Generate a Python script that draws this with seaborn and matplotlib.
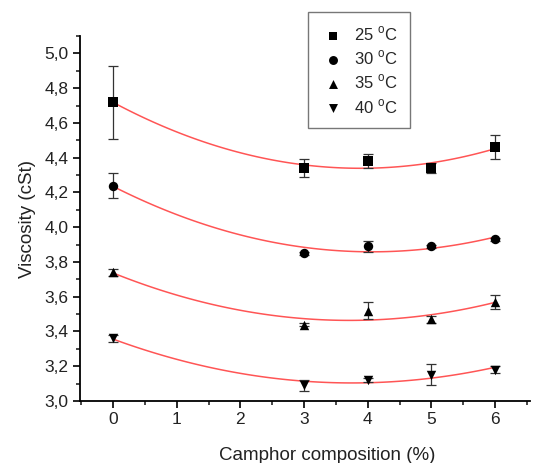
import matplotlib
matplotlib.use("Agg")
import matplotlib.pyplot as plt
import matplotlib.ticker as ticker
import pandas as pd
import seaborn as sns
import numpy as np

camphor = [0, 3, 4, 5, 6]
temps = ["25", "30", "35", "40"]
markers = ["s", "o", "^", "v"]

visc_25 = [4.72, 4.34, 4.38, 4.34, 4.46]
visc_30 = [4.24, 3.85, 3.89, 3.89, 3.93]
visc_35 = [3.74, 3.44, 3.52, 3.47, 3.57]
visc_40 = [3.36, 3.09, 3.12, 3.15, 3.18]

err_25 = [0.21, 0.05, 0.04, 0.03, 0.07]
err_30 = [0.07, 0.01, 0.03, 0.01, 0.01]
err_35 = [0.02, 0.01, 0.05, 0.02, 0.04]
err_40 = [0.02, 0.03, 0.01, 0.06, 0.02]


def make_frame():
    rows = []
    for t, v, e in zip(temps, [visc_25, visc_30, visc_35, visc_40],
                       [err_25, err_30, err_35, err_40]):
        for x, y, s in zip(camphor, v, e):
            rows.append({"camphor": x, "visc": y, "err": s, "temp": t})
    return pd.DataFrame(rows)


def plot(df):
    sns.set_style("ticks")
    plt.rcParams["font.family"] = ["Liberation Sans", "DejaVu Sans"]
    plt.rcParams["mathtext.fontset"] = "custom"
    plt.rcParams["mathtext.rm"] = "Liberation Sans"

    fig = plt.figure(figsize=(5.55, 4.63), dpi=100)
    ax = fig.add_axes([0.144, 0.134, 0.811, 0.788])

    for t, m in zip(temps, markers):
        d = df[df["temp"] == t]
        # quadratic fit in red
        sns.regplot(data=d, x="camphor", y="visc", order=2, ci=None,
                    scatter=False, truncate=True, ax=ax,
                    line_kws={"color": "#ff5555", "lw": 1.1, "zorder": 2})
        ax.errorbar(d["camphor"], d["visc"], yerr=d["err"], fmt="none",
                    ecolor="#333333", elinewidth=0.9, capsize=3.5,
                    capthick=0.9, zorder=3)
        ax.scatter(d["camphor"], d["visc"], marker=m, s=46, color="black",
                   linewidths=0, zorder=4, label="%s $^{\\rm o}$C" % t)

    ax.set_xlim(-0.52, 6.55)
    ax.set_ylim(3.0, 5.1)
    ax.xaxis.set_major_locator(ticker.MultipleLocator(1))
    ax.xaxis.set_minor_locator(ticker.MultipleLocator(0.5))
    ax.yaxis.set_major_locator(ticker.MultipleLocator(0.2))
    ax.yaxis.set_minor_locator(ticker.MultipleLocator(0.1))
    ax.yaxis.set_major_formatter(
        ticker.FuncFormatter(lambda v, p: ("%.1f" % v).replace(".", ",")))
    ax.tick_params(which="major", length=5, width=1.2, labelsize=12.5,
                   colors="black", labelcolor="#222222", pad=3)
    ax.tick_params(which="minor", length=3, width=1.2)
    for s in ["top", "right"]:
        ax.spines[s].set_visible(False)
    for s in ["left", "bottom"]:
        ax.spines[s].set_linewidth(1.3)
        ax.spines[s].set_color("black")

    ax.set_xlabel("Camphor composition (%)", fontsize=13.5, color="#222222")
    ax.xaxis.set_label_coords(0.549, -0.125)
    ax.set_ylabel("Viscosity (cSt)", fontsize=13.5, labelpad=6,
                  color="#222222")

    leg = ax.legend(loc="upper left", bbox_to_anchor=(0.507, 1.066),
                    frameon=True, fancybox=False, fontsize=12,
                    handletextpad=0.5, borderpad=0.75, labelspacing=0.33,
                    handlelength=1.5, borderaxespad=0, markerscale=0.95)
    leg.get_frame().set_edgecolor("#555555")
    leg.get_frame().set_linewidth(1.0)

    fig.savefig("out.png", dpi=100)


if __name__ == "__main__":
    df = make_frame()
    plot(df)
